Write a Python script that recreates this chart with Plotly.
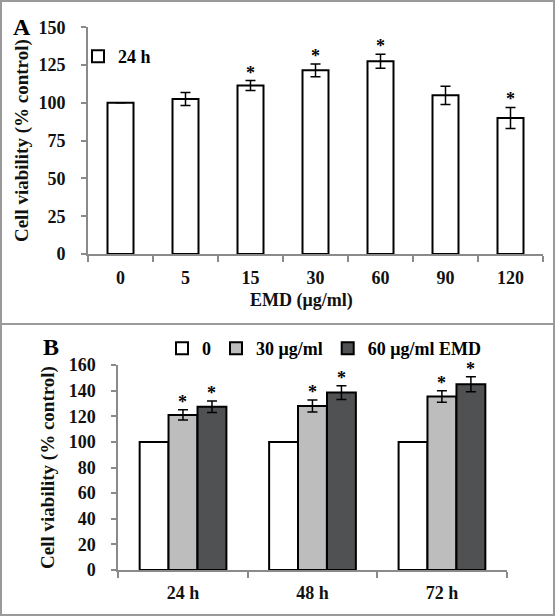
import plotly.graph_objects as go

# ---------------- Data ----------------
# Panel A: dose response at 24 h
conc_labels = ["0", "5", "15", "30", "60", "90", "120"]
viab_24h = [100, 102.5, 111.5, 121.5, 127.5, 105, 90]
err_24h = [0, 4.3, 3.3, 4.2, 4.6, 6, 7]
stars_A = ["", "", "*", "*", "*", "", "*"]

# Panel B: time course
time_labels = ["24 h", "48 h", "72 h"]
viab_ctrl = [100, 100, 100]
err_ctrl = [0, 0, 0]
viab_30 = [121, 128, 135.5]
err_30 = [4, 4.7, 4.5]
viab_60 = [127.5, 138.5, 145]
err_60 = [4.5, 5.4, 5.9]
stars_B30 = ["*", "*", "*"]
stars_B60 = ["*", "*", "*"]

# ---------------- Style ----------------
FONT = "Liberation Serif, Times New Roman, serif"
AX = "#8a8a8a"
LIGHT = "#bdbdbd"
DARK = "#505153"

W, H = 555, 616


def px_x(p):
    return p / W


def px_y(p):
    return 1 - p / H


fig = go.Figure()

err_style = dict(type="data", color="black", thickness=1.5, width=5, visible=True)

BAR_W_A = 0.4
fig.add_trace(go.Bar(
    x=conc_labels, y=viab_24h, name="24 h",
    error_y=dict(array=err_24h, **err_style),
    marker=dict(color="white", line=dict(color="black", width=2)),
    width=BAR_W_A, xaxis="x", yaxis="y", legend="legend",
))

BAR_W_B = 0.223
b_series = [
    ("0", viab_ctrl, err_ctrl, "white", -0.335, None),
    ("30 μg/ml", viab_30, err_30, LIGHT, -0.112, stars_B30),
    ("60 μg/ml EMD", viab_60, err_60, DARK, 0.112, stars_B60),
]
star_font = dict(family=FONT, size=18, color="black", weight="bold")
annotations = []
for name, vals, errs, col, off, stars in b_series:
    fig.add_trace(go.Bar(
        x=time_labels, y=vals, name=name,
        error_y=dict(array=errs, **err_style),
        marker=dict(color=col, line=dict(color="black", width=2)),
        width=BAR_W_B, offset=off, xaxis="x2", yaxis="y2", legend="legend2",
    ))
    if stars:
        for i, (v, e, s) in enumerate(zip(vals, errs, stars)):
            if s:
                annotations.append(dict(x=i + off + BAR_W_B / 2, y=v + e,
                                        xref="x2", yref="y2", text=s,
                                        showarrow=False, yanchor="bottom",
                                        yshift=-4, font=star_font))

for i, (v, e, s) in enumerate(zip(viab_24h, err_24h, stars_A)):
    if s:
        annotations.append(dict(x=i, y=v + e, xref="x", yref="y", text=s,
                                showarrow=False, yanchor="bottom", yshift=-4,
                                font=star_font))

titlefont = dict(family=FONT, size=19, color="#111111", weight="bold")

annotations += [
    dict(text="A", x=px_x(11), y=px_y(12), xref="paper", yref="paper",
         xanchor="left", yanchor="top", showarrow=False,
         font=dict(family=FONT, size=24, color="black", weight="bold")),
    dict(text="B", x=px_x(41), y=px_y(332), xref="paper", yref="paper",
         xanchor="left", yanchor="top", showarrow=False,
         font=dict(family=FONT, size=24, color="black", weight="bold")),
    # x-axis title of panel A (placed as in the original, slightly left of centre)
    dict(text="EMD (μg/ml)", x=px_x(301), y=px_y(300), xref="paper", yref="paper",
         xanchor="center", yanchor="middle", showarrow=False, borderpad=0,
         font=dict(family=FONT, size=18, color="#111111", weight="bold")),
]

tickfont = dict(family=FONT, size=18, color="#111111", weight="bold")

common_y = dict(showline=True, linecolor=AX, linewidth=2, ticks="outside",
                ticklen=5, tickwidth=2, tickcolor=AX, showgrid=False,
                zeroline=False, automargin=False, ticklabelstandoff=12,
                tickfont=tickfont)
common_x = dict(type="category", showline=True, linecolor=AX, linewidth=2,
                ticks="outside", tickson="boundaries", ticklen=6, tickwidth=2,
                tickcolor=AX, showgrid=False, zeroline=False, automargin=False,
                tickfont=tickfont, tickangle=0)

fig.update_layout(
    width=W, height=H,
    template="none",
    margin=dict(l=0, r=0, t=0, b=0),
    paper_bgcolor="white", plot_bgcolor="white",
    font=dict(family=FONT, color="black"),
    barmode="group",
    xaxis=dict(domain=[px_x(88), px_x(543)], anchor="y", ticklabelstandoff=6,
               **common_x),
    yaxis=dict(domain=[px_y(254), px_y(27.3)], anchor="x", range=[0, 150],
               tickvals=[0, 25, 50, 75, 100, 125, 150],
               title=dict(text="Cell viability (% control)", font=titlefont, standoff=5),
               **common_y),
    xaxis2=dict(domain=[px_x(118.3), px_x(506.7)], anchor="y2",
                ticklabelstandoff=5, **common_x),
    yaxis2=dict(domain=[px_y(570), px_y(365)], anchor="x2", range=[0, 160],
                tickvals=[0, 20, 40, 60, 80, 100, 120, 140, 160],
                title=dict(text="Cell viability (% control)", font=titlefont, standoff=9),
                **common_y),
    legend=dict(x=px_x(78), y=px_y(38), xanchor="left", yanchor="top",
                bgcolor="rgba(0,0,0,0)", itemwidth=30,
                font=dict(family=FONT, size=18, color="black", weight="bold")),
    legend2=dict(orientation="h", x=px_x(162), y=px_y(330), xanchor="left",
                 yanchor="top", bgcolor="rgba(0,0,0,0)", itemwidth=30,
                 font=dict(family=FONT, size=18, color="black", weight="bold")),
    annotations=annotations,
    shapes=[
        dict(type="rect", xref="paper", yref="paper", x0=px_x(1), x1=px_x(554),
             y0=px_y(615), y1=px_y(1), line=dict(color="#9a9a9a", width=2)),
        dict(type="line", xref="paper", yref="paper", x0=0, x1=1,
             y0=px_y(324), y1=px_y(324), line=dict(color="#9a9a9a", width=2)),
    ],
    showlegend=True,
)

fig.write_html("out.html", config={"displayModeBar": False},
               post_script="document.body.style.margin='0';document.body.style.overflow='hidden';")
